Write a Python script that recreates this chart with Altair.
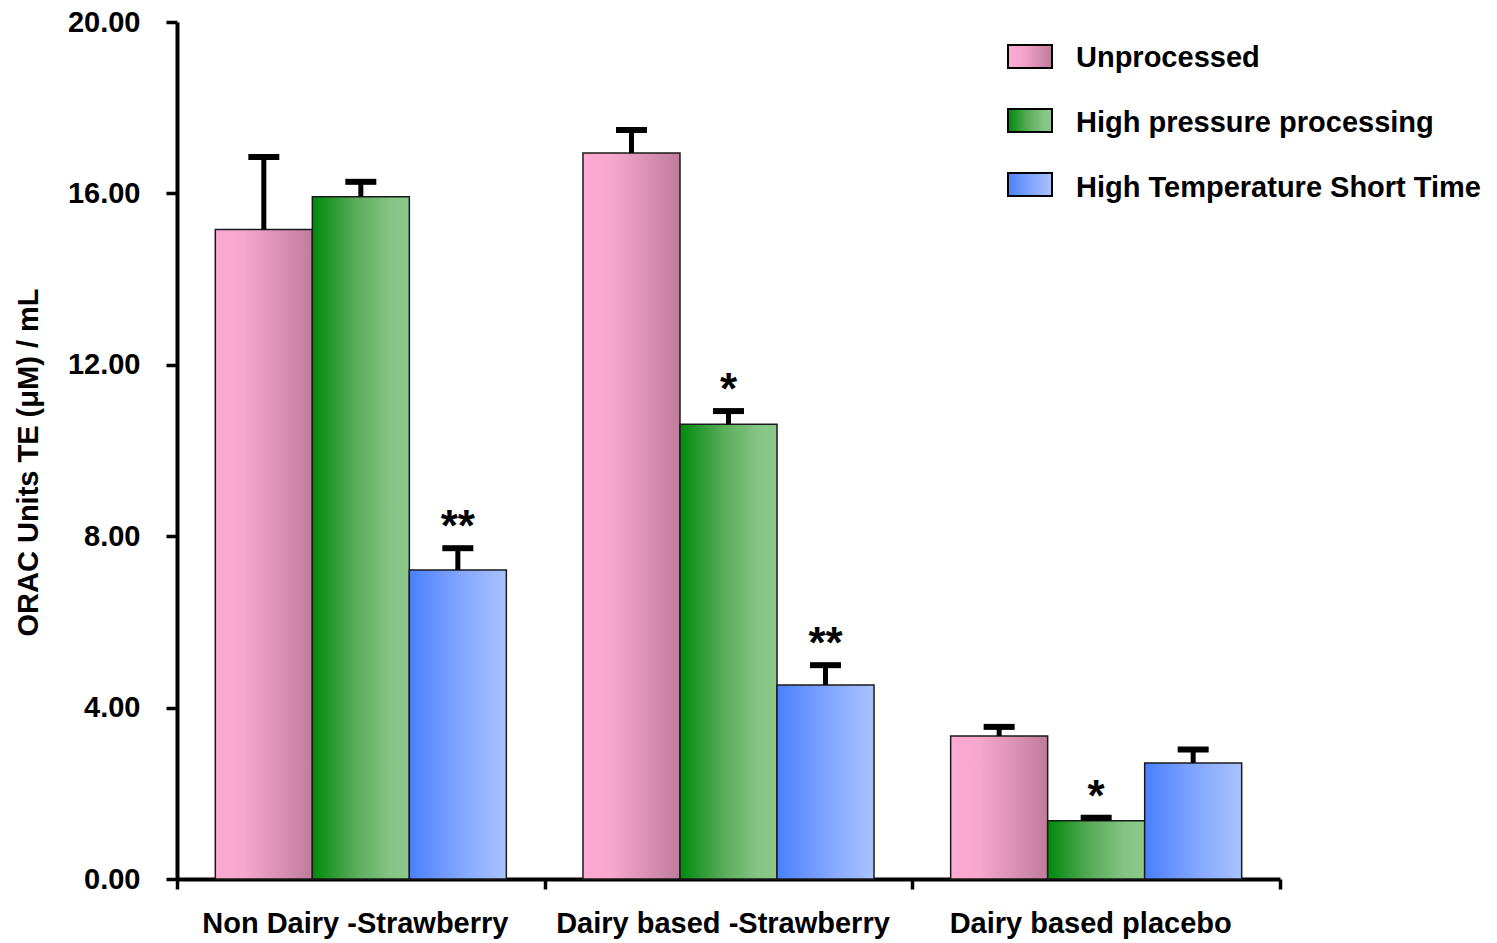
import altair as alt
import pandas as pd

# Product groups along the x axis and processing treatments within each group
groups = ["Non Dairy -Strawberry", "Dairy based -Strawberry", "Dairy based placebo"]
series = ["Unprocessed", "High pressure processing", "High Temperature Short Time"]

# Mean ORAC values (µM TE / mL) per treatment, one entry per group
unprocessed = [15.16, 16.94, 3.34]
hpp = [15.92, 10.61, 1.36]
htst = [7.21, 4.53, 2.71]

# Upper error (SD) per treatment, one entry per group
unprocessed_err = [1.69, 0.54, 0.21]
hpp_err = [0.35, 0.31, 0.07]
htst_err = [0.51, 0.46, 0.31]

# Significance markers drawn above the error bars
unprocessed_sig = ["", "", ""]
hpp_sig = ["", "*", "*"]
htst_sig = ["**", "**", ""]

rows = []
for s, vals, errs, sigs in [
    (series[0], unprocessed, unprocessed_err, unprocessed_sig),
    (series[1], hpp, hpp_err, hpp_sig),
    (series[2], htst, htst_err, htst_sig),
]:
    for g, v, e, m in zip(groups, vals, errs, sigs):
        rows.append({"group": g, "series": s, "value": v, "upper": v + e, "sig": m})
df = pd.DataFrame(rows)

FONT = "Liberation Sans"


def grad(stops):
    return alt.LinearGradient(
        gradient="linear",
        stops=[alt.GradientStop(offset=o, color=c) for o, c in stops],
        x1=0, x2=1, y1=0, y2=0,
    )


fills = [
    grad([(0, "#fdaad4"), (0.3, "#f6a7cc"), (1, "#bf7c9d")]),
    grad([(0, "#008a0c"), (0.45, "#5aac5a"), (0.8, "#84c584"), (1, "#8bc98b")]),
    grad([(0, "#4a80ff"), (0.5, "#80a4ff"), (1, "#aac3ff")]),
]

x_enc = alt.X(
    "group:N",
    sort=groups,
    scale=alt.Scale(domain=groups, paddingInner=0, paddingOuter=0),
    axis=alt.Axis(
        title=None, labelAngle=0, tickBand="extent", tickSize=10,
        labelPadding=20, labelLimit=0, labelOffset=-6, domainWidth=4, tickWidth=3.5,
    ),
)
xoff_enc = alt.XOffset(
    "series:N",
    scale=alt.Scale(domain=series, paddingInner=0, paddingOuter=0.395),
)
y_scale = alt.Scale(domain=[0, 20], nice=False)
y_axis = alt.Axis(
    values=[0, 4, 8, 12, 16, 20], format=".2f", tickSize=11, labelPadding=26,
    title="ORAC Units TE (μM) / mL", titlePadding=24, titleY=440,
    domainWidth=4, tickWidth=3.5,
)

layers = []
for i, s in enumerate(series):
    sub = df[df["series"] == s]
    layers.append(
        alt.Chart(sub).mark_bar(fill=fills[i], stroke="#1a1a1a", strokeWidth=1.5).encode(
            x=x_enc, xOffset=xoff_enc,
            y=alt.Y("value:Q", scale=y_scale, axis=y_axis),
        )
    )

# Upper error bars: stem plus cap
layers.append(
    alt.Chart(df).mark_rule(color="black", strokeWidth=5).encode(
        x=x_enc, xOffset=xoff_enc,
        y=alt.Y("value:Q", scale=y_scale, axis=y_axis), y2="upper:Q",
    )
)
layers.append(
    alt.Chart(df).mark_tick(color="black", size=31, thickness=6, opacity=1).encode(
        x=x_enc, xOffset=xoff_enc,
        y=alt.Y("upper:Q", scale=y_scale, axis=y_axis),
    )
)

# Significance asterisks
layers.append(
    alt.Chart(df[df["sig"] != ""]).mark_text(
        font=FONT, fontSize=44, fontWeight="bold", baseline="alphabetic", dy=-7, color="black",
    ).encode(
        x=x_enc, xOffset=xoff_enc,
        y=alt.Y("upper:Q", scale=y_scale, axis=y_axis),
        text="sig:N",
    )
)

# Legend: gradient swatch and label per treatment
for i, s in enumerate(series):
    one = pd.DataFrame({"series": [s]})
    top = 23 + 64 * i
    layers.append(
        alt.Chart(one).mark_rect(fill=fills[i], stroke="black", strokeWidth=2).encode(
            x=alt.value(831), x2=alt.value(875), y=alt.value(top), y2=alt.value(top + 23),
        )
    )
    layers.append(
        alt.Chart(one).mark_text(
            font=FONT, fontSize=29, fontWeight="bold", align="left",
            baseline="alphabetic", color="black",
        ).encode(x=alt.value(899), y=alt.value(45 + 65 * i), text="series:N")
    )

chart = (
    alt.layer(*layers)
    .properties(
        width=1103, height=857,
        autosize=alt.AutoSizeParams(type="none"),
        padding={"left": 177, "top": 22, "right": 217, "bottom": 64},
        background="white",
    )
    .configure_view(stroke=None)
    .configure_axis(
        grid=False, domainColor="black", tickColor="black",
        labelColor="black", titleColor="black",
        labelFont=FONT, labelFontSize=29, labelFontWeight="bold",
        titleFont=FONT, titleFontSize=29, titleFontWeight="bold",
        zindex=1,
    )
)

chart.save("out.html", embed_options={"renderer": "svg", "actions": False})
